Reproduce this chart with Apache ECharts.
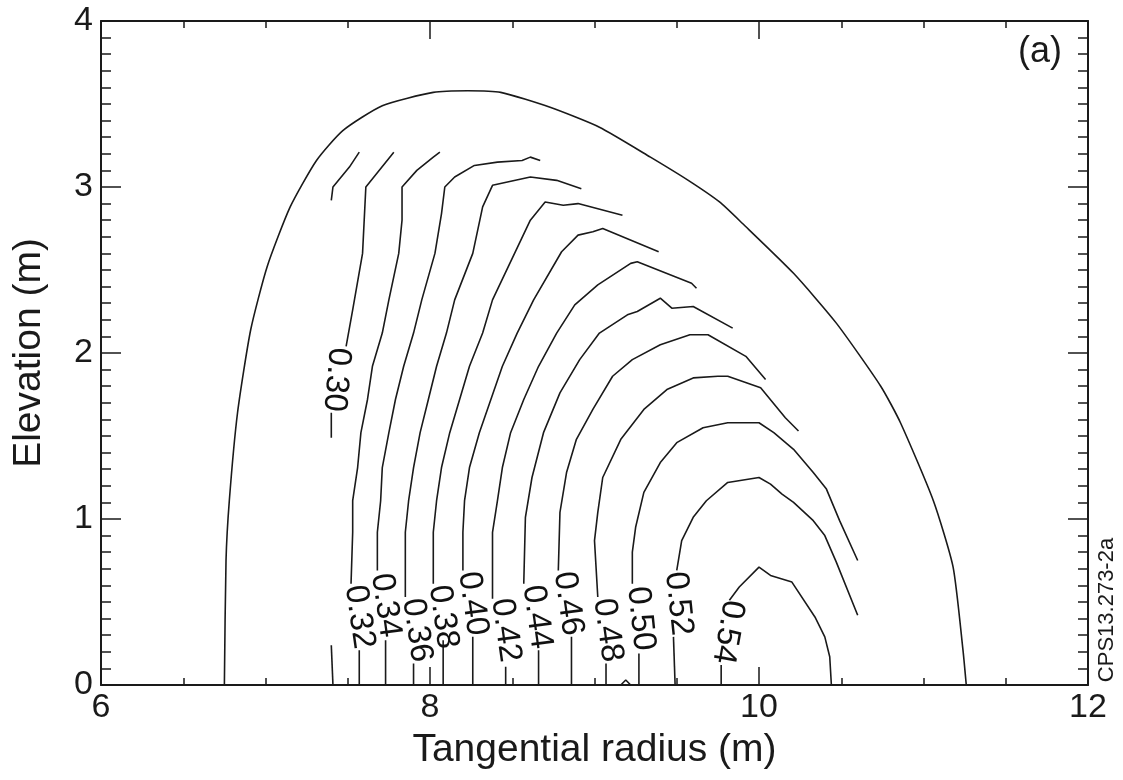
<!DOCTYPE html>
<html>
<head>
<meta charset="utf-8">
<script src="https://cdn.jsdelivr.net/npm/echarts@6/dist/echarts.min.js"></script>
<style>
html, body { margin: 0; padding: 0; background: #fff; }
#chart { width: 1123px; height: 780px; }
</style>
</head>
<body>
<div id="chart"></div>
<script>
// outer edge of the contoured region
var boundary = [[6.75,0],[6.76,0.75],[6.78,1.11],[6.83,1.64],[6.91,2.14],[7.01,2.52],[7.15,2.88],[7.31,3.16],[7.47,3.34],[7.71,3.49],[8.02,3.57],[8.23,3.58],[8.43,3.57],[8.73,3.48],[9.03,3.36],[9.34,3.18],[9.57,3.04],[9.76,2.91],[9.90,2.78],[10.21,2.48],[10.47,2.18],[10.74,1.80],[10.86,1.58],[11.06,1.11],[11.18,0.71],[11.24,0.21],[11.26,0]];

// short piece at top left
var stub = [[7.57,3.21],[7.51,3.12],[7.41,3.00],[7.40,2.92]];
// tiny cap on the floor near 9.2 m
var cap = [[9.16,0],[9.19,0.03],[9.22,0]];

// contour lines, split where the labels sit
var c30Upper = [[7.78,3.21],[7.61,3.00],[7.59,2.60],[7.53,2.26],[7.49,2.04]];
var c30Mid = [[7.40,1.64],[7.40,1.49]];
var c30Lower = [[7.40,0.24],[7.41,0]];

var c32Upper = [[8.06,3.21],[8.02,3.18],[7.92,3.10],[7.83,3.00],[7.83,2.80],[7.81,2.60],[7.75,2.32],[7.71,2.12],[7.65,1.92],[7.62,1.72],[7.58,1.52],[7.56,1.31],[7.53,1.11],[7.53,0.92],[7.52,0.61]];
var c32Lower = [[7.57,0.21],[7.57,0]];

var c34Upper = [[8.67,3.16],[8.61,3.18],[8.56,3.16],[8.41,3.15],[8.27,3.13],[8.15,3.06],[8.09,3.00],[8.07,2.84],[8.03,2.60],[7.95,2.32],[7.90,2.12],[7.84,1.92],[7.79,1.72],[7.75,1.52],[7.71,1.31],[7.70,1.11],[7.68,0.92],[7.68,0.69]];
var c34Lower = [[7.73,0.27],[7.73,0]];

var c36Upper = [[8.92,2.99],[8.77,3.04],[8.61,3.06],[8.38,3.01],[8.32,2.88],[8.26,2.60],[8.15,2.32],[8.10,2.12],[8.04,1.92],[7.99,1.72],[7.94,1.52],[7.90,1.31],[7.87,1.11],[7.85,0.92],[7.85,0.53]];
var c36Lower = [[7.90,0.13],[7.90,0]];

var c38Upper = [[9.17,2.83],[8.90,2.90],[8.81,2.89],[8.70,2.91],[8.61,2.80],[8.38,2.32],[8.32,2.12],[8.24,1.92],[8.18,1.72],[8.12,1.52],[8.07,1.31],[8.04,1.11],[8.02,0.92],[8.02,0.61]];
var c38Lower = [[8.08,0.27],[8.08,0]];

var c40Upper = [[9.39,2.61],[9.05,2.75],[8.99,2.73],[8.90,2.71],[8.80,2.61],[8.63,2.32],[8.53,2.12],[8.44,1.92],[8.37,1.72],[8.30,1.52],[8.24,1.31],[8.21,1.11],[8.20,0.92],[8.20,0.69]];
var c40Lower = [[8.26,0.29],[8.26,0]];

var c42Upper = [[9.62,2.39],[9.59,2.42],[9.26,2.55],[9.22,2.54],[9.02,2.41],[8.88,2.29],[8.77,2.12],[8.66,1.92],[8.57,1.72],[8.49,1.52],[8.44,1.31],[8.41,1.11],[8.38,0.92],[8.38,0.52]];
var c42Lower = [[8.46,0.11],[8.46,0]];

var c44Upper = [[9.84,2.15],[9.60,2.28],[9.47,2.27],[9.40,2.33],[9.26,2.25],[9.20,2.23],[9.03,2.12],[8.91,1.96],[8.79,1.76],[8.69,1.52],[8.62,1.25],[8.58,1.01],[8.57,0.61]];
var c44Lower = [[8.66,0.21],[8.66,0]];

var c46Upper = [[10.04,1.84],[9.92,1.98],[9.69,2.11],[9.58,2.11],[9.40,2.05],[9.23,1.96],[9.11,1.86],[8.99,1.66],[8.89,1.48],[8.83,1.28],[8.79,1.04],[8.78,0.69]];
var c46Lower = [[8.86,0.29],[8.86,0]];

var c48Upper = [[10.24,1.53],[10.16,1.61],[10.01,1.79],[9.81,1.86],[9.75,1.86],[9.60,1.85],[9.44,1.78],[9.30,1.66],[9.16,1.48],[9.05,1.25],[9.02,1.04],[9.00,0.87],[9.02,0.53]];
var c48Lower = [[9.07,0.13],[9.07,0]];

var c50Upper = [[10.60,0.75],[10.49,0.99],[10.41,1.18],[10.33,1.28],[10.21,1.42],[10.09,1.52],[10.00,1.58],[9.81,1.58],[9.66,1.55],[9.50,1.46],[9.40,1.34],[9.30,1.16],[9.25,0.95],[9.23,0.80],[9.23,0.61]];
var c50Lower = [[9.27,0.19],[9.27,0]];

var c52Upper = [[10.60,0.42],[10.47,0.74],[10.40,0.90],[10.33,0.99],[10.21,1.10],[10.14,1.15],[10.07,1.21],[10.00,1.25],[9.81,1.22],[9.68,1.11],[9.60,1.01],[9.53,0.87],[9.50,0.69]];
var c52Lower = [[9.48,0.29],[9.49,0]];

var c54Upper = [[10.44,0],[10.43,0.17],[10.40,0.29],[10.34,0.41],[10.20,0.62],[10.07,0.66],[10.00,0.71],[9.88,0.59],[9.82,0.51]];
var c54Lower = [[9.77,0.12],[9.77,0]];

// contour labels
var labelText = ['0.30','0.32','0.34','0.36','0.38','0.40','0.42','0.44','0.46','0.48','0.50','0.52','0.54'];
var labelX = [7.43,7.57,7.73,7.92,8.08,8.26,8.46,8.65,8.84,9.08,9.28,9.51,9.81];
var labelY = [1.84,0.41,0.48,0.33,0.41,0.49,0.33,0.41,0.49,0.33,0.40,0.49,0.32];
var labelAngle = [-95,-82,-82,-82,-82,-82,-82,-82,-82,-82,-84,-84,-100];

var FONT = '"Liberation Sans", Arial, Helvetica, sans-serif';
var INK = '#1a1a1a';

var pieces = [stub, cap,
    c30Upper, c30Mid, c30Lower, c32Upper, c32Lower, c34Upper, c34Lower,
    c36Upper, c36Lower, c38Upper, c38Lower, c40Upper, c40Lower,
    c42Upper, c42Lower, c44Upper, c44Lower, c46Upper, c46Lower,
    c48Upper, c48Lower, c50Upper, c50Lower, c52Upper, c52Lower,
    c54Upper, c54Lower];

var series = pieces.map(function (p) {
    return {
        type: 'line',
        data: p,
        symbol: 'none',
        silent: true,
        lineStyle: { color: INK, width: 1.6 }
    };
});
series.push({
    type: 'line',
    data: boundary,
    symbol: 'none',
    smooth: 0.2,
    silent: true,
    lineStyle: { color: INK, width: 1.6 }
});
// labels ride on an invisible scatter so they sit on the axes' scales
series.push({
    type: 'scatter',
    symbolSize: 2,
    itemStyle: { color: 'rgba(0,0,0,0)' },
    silent: true,
    z: 5,
    data: labelText.map(function (t, i) {
        return {
            name: t,
            value: [labelX[i], labelY[i]],
            label: { rotate: labelAngle[i] }
        };
    }),
    label: {
        show: true,
        position: 'inside',
        formatter: '{b}',
        color: '#111',
        opacity: 1,
        textBorderWidth: 0,
        fontFamily: FONT,
        fontSize: 33
    }
});

function xAxisDef(pos, showLabel) {
    return {
        type: 'value', position: pos, min: 6, max: 12, interval: 2,
        name: showLabel ? 'Tangential radius (m)' : '',
        nameLocation: 'middle', nameGap: 46,
        nameTextStyle: { color: INK, fontFamily: FONT, fontSize: 39 },
        axisLine: { show: true, onZero: false, lineStyle: { color: INK, width: 2 } },
        axisTick: { show: true, inside: true, length: 18, lineStyle: { color: INK, width: 1.5 } },
        minorTick: { show: true, splitNumber: 4, length: 7, lineStyle: { color: INK, width: 1.5 } },
        axisLabel: { show: showLabel, margin: 6, color: INK, fontFamily: FONT, fontSize: 34 },
        splitLine: { show: false }
    };
}
function yAxisDef(pos, showLabel) {
    return {
        type: 'value', position: pos, min: 0, max: 4, interval: 1,
        name: showLabel ? 'Elevation (m)' : '',
        nameLocation: 'middle', nameGap: 52,
        nameTextStyle: { color: INK, fontFamily: FONT, fontSize: 39 },
        axisLine: { show: true, onZero: false, lineStyle: { color: INK, width: 2 } },
        axisTick: { show: true, inside: true, length: 20, lineStyle: { color: INK, width: 1.5 } },
        minorTick: { show: true, splitNumber: 10, length: 10, lineStyle: { color: INK, width: 1.5 } },
        axisLabel: { show: showLabel, margin: 8, color: INK, fontFamily: FONT, fontSize: 34 },
        splitLine: { show: false }
    };
}

var chart = echarts.init(document.getElementById('chart'), null, { renderer: 'canvas' });
chart.setOption({
    animation: false,
    backgroundColor: '#fff',
    grid: { left: 101, top: 21, width: 987, height: 664 },
    xAxis: [xAxisDef('bottom', true), xAxisDef('top', false)],
    yAxis: [yAxisDef('left', true), yAxisDef('right', false)],
    series: series,
    graphic: [
        {
            type: 'text', left: 1018, top: 34,
            style: { text: '(a)', fill: INK, font: '36px ' + FONT }
        },
        {
            type: 'text', x: 1107, y: 610, rotation: Math.PI / 2,
            style: { text: 'CPS13.273-2a', fill: INK, font: '22px ' + FONT, textAlign: 'center', textVerticalAlign: 'middle' }
        }
    ]
});
</script>
</body>
</html>
